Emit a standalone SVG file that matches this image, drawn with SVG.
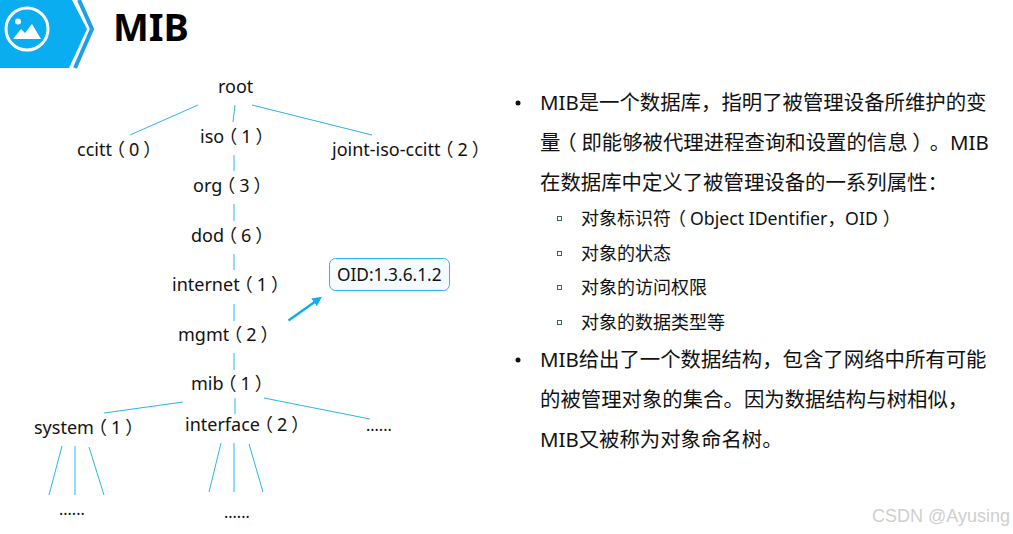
<svg xmlns="http://www.w3.org/2000/svg" width="1013" height="534" viewBox="0 0 1013 534">
<style>
text{font-family:"Noto Sans","Noto Sans CJK SC",sans-serif;fill:#111;text-spacing-trim:space-all}
.t{font-size:18px}
.b{font-size:20.4px}
.s{font-size:18px}
.p{font-feature-settings:"halt" 1;font-family:"Noto Sans CJK SC",sans-serif}
.l{stroke:#29b6e8;stroke-width:1;fill:none}
.d{fill:#111}
.q{fill:none;stroke:#29688a;stroke-width:1}
</style>
<defs><marker id="ah" markerWidth="4" markerHeight="4" refX="1" refY="2" orient="auto"><path d="M0 0L4 2L0 4Z" fill="#0aaef0"/></marker></defs>
<g id="header">
<path d="M0 0H72L87 29L69 68H0Z" fill="#0aaef0"/>
<path d="M79 0L92 29L75 68" fill="none" stroke="#1ea0e8" stroke-width="4"/>
<circle cx="27" cy="29" r="21" fill="none" stroke="#fff" stroke-width="3"/>
<circle cx="18" cy="21.500" r="3" fill="#fff"/>
<path d="M13 39L21 29L25 33L32 24L41 39Z" fill="#fff"/>
<text x="113" y="41" style="font-size:38px;font-weight:700;fill:#000">MIB</text>
</g>
<g id="connectors">
<path class="l" d="M198 105L130 135M235 105L233 122M252 105L372 135M234 155V171M234 204V221M234 254V270M234 304V321M234 353V370M183 402L104 413M235 398V414M264 398L370 419M62 446L49 495M75 446V495M89 447L104 495M221 443L209 492M234 443V492M249 444L263 492"/>
<line x1="288.500" y1="320.500" x2="316" y2="301" stroke="#0aaef0" stroke-width="2.400" marker-end="url(#ah)"/>
</g>
<g id="root"><text class="t" x="218" y="93">root</text></g>
<g id="ccitt"><text class="t" x="77" y="156">ccitt<tspan class="p" dx="4">（</tspan><tspan dx="4">0</tspan><tspan class="p" dx="4">）</tspan></text></g>
<g id="iso"><text class="t" x="200" y="143">iso<tspan class="p" dx="4">（</tspan><tspan dx="4">1</tspan><tspan class="p" dx="4">）</tspan></text></g>
<g id="joint"><text class="t" x="332" y="156">joint-iso-ccitt<tspan class="p" dx="4">（</tspan><tspan dx="4">2</tspan><tspan class="p" dx="4">）</tspan></text></g>
<g id="org"><text class="t" x="193" y="192">org<tspan class="p" dx="4">（</tspan><tspan dx="4">3</tspan><tspan class="p" dx="4">）</tspan></text></g>
<g id="dod"><text class="t" x="191" y="242">dod<tspan class="p" dx="4">（</tspan><tspan dx="4">6</tspan><tspan class="p" dx="4">）</tspan></text></g>
<g id="internet"><text class="t" x="172" y="291">internet<tspan class="p" dx="4">（</tspan><tspan dx="4">1</tspan><tspan class="p" dx="4">）</tspan></text></g>
<g id="mgmt"><text class="t" x="178" y="341">mgmt<tspan class="p" dx="4">（</tspan><tspan dx="4">2</tspan><tspan class="p" dx="4">）</tspan></text></g>
<g id="mib"><text class="t" x="191" y="390">mib<tspan class="p" dx="4">（</tspan><tspan dx="4">1</tspan><tspan class="p" dx="4">）</tspan></text></g>
<g id="system"><text class="t" x="34" y="434">system<tspan class="p" dx="4">（</tspan><tspan dx="4">1</tspan><tspan class="p" dx="4">）</tspan></text></g>
<g id="interface"><text class="t" x="185" y="431">interface<tspan class="p" dx="4">（</tspan><tspan dx="4">2</tspan><tspan class="p" dx="4">）</tspan></text></g>
<g id="more1"><text class="t" x="366" y="431" style="font-size:16px">......</text></g>
<g id="more2"><text class="t" x="59" y="515" style="font-size:16px">......</text></g>
<g id="more3"><text class="t" x="224" y="518" style="font-size:16px">......</text></g>
<g id="oid">
<rect x="329.500" y="258.500" width="120" height="32" rx="6" fill="#f5fcff" stroke="#29b6e8"/>
<text x="337" y="281" style="font-size:17.300px">OID:1.3.6.1.2</text>
</g>
<g id="text-panel">
<circle class="d" cx="518" cy="103" r="2.500"/>
<text class="b" x="540" y="110">MIB是一个数据库，指明了被管理设备所维护的变</text>
<text class="b" x="540" y="150">量<tspan class="p" dx="6">（</tspan><tspan dx="4.800">即能够被代理进程查询和设置的信息</tspan><tspan class="p" dx="4.500">）</tspan><tspan dx="7.300">。</tspan>MIB</text>
<text class="b" x="540" y="190">在数据库中定义了被管理设备的一系列属性：</text>
<rect class="q" x="557.500" y="216.500" width="4" height="4"/>
<text class="s" x="581" y="225">对象标识符<tspan class="p" dx="6">（</tspan><tspan dx="4" style="font-size:17.700px">Object IDentifier，OID</tspan><tspan class="p" dx="5">）</tspan></text>
<rect class="q" x="557.500" y="251.500" width="4" height="4"/>
<text class="s" x="581" y="260">对象的状态</text>
<rect class="q" x="557.500" y="285.500" width="4" height="4"/>
<text class="s" x="581" y="294">对象的访问权限</text>
<rect class="q" x="557.500" y="320.500" width="4" height="4"/>
<text class="s" x="581" y="329">对象的数据类型等</text>
<circle class="d" cx="518" cy="360" r="2.500"/>
<text class="b" x="540" y="367">MIB给出了一个数据结构，包含了网络中所有可能</text>
<text class="b" x="540" y="407">的被管理对象的集合。因为数据结构与树相似，</text>
<text class="b" x="540" y="447">MIB又被称为对象命名树。</text>
</g>
<text x="872" y="522" style="font-family:'Liberation Sans',sans-serif;font-size:18px;fill:#cfcfcf">CSDN @Ayusing</text>
</svg>
